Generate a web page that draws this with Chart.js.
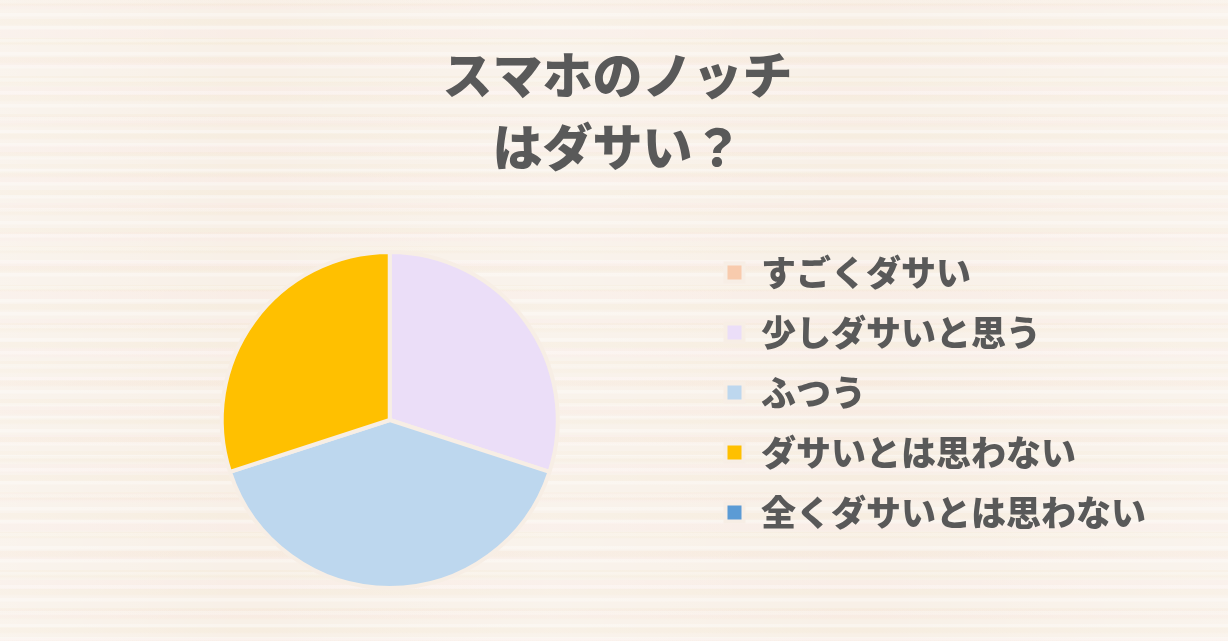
<!DOCTYPE html>
<html lang="ja">
<head>
<meta charset="utf-8">
<title>スマホのノッチはダサい？</title>
<script src="https://cdn.jsdelivr.net/npm/chart.js@4.4.1/dist/chart.umd.min.js"></script>
<style>
  html, body { margin: 0; padding: 0; }
  body {
    width: 1228px;
    height: 641px;
    overflow: hidden;
    background:
      linear-gradient(90deg, rgba(255,255,255,0.25), rgba(255,255,255,0) 20%, rgba(255,255,255,0.2) 45%, rgba(255,255,255,0) 70%, rgba(255,255,255,0.25)),
      repeating-linear-gradient(180deg, rgba(255,255,255,0.30) 0 3px, rgba(255,255,255,0) 4px 13px),
      repeating-linear-gradient(180deg, rgba(240,224,192,0.18) 0 5px, rgba(240,224,192,0) 7px 19px),
      repeating-linear-gradient(180deg, rgba(250,232,228,0.35) 0 8px, rgba(250,232,228,0) 10px 29px),
      repeating-linear-gradient(180deg, rgba(244,230,204,0.20) 0 3px, rgba(244,230,204,0) 5px 41px),
      #f8f0e7;
  }
  #wrap { position: relative; width: 1228px; height: 641px; }
</style>
</head>
<body>
<div id="wrap"><canvas id="notchChart"></canvas></div>
<script>
const titleLines = ["スマホのノッチ", "はダサい？"];
const labels = ["すごくダサい", "少しダサいと思う", "ふつう", "ダサいとは思わない", "全くダサいとは思わない"];
const values = [0, 30, 40, 30, 0];
const colors = ["#f8cbad", "#ebdef8", "#bdd7ee", "#ffc000", "#5b9bd5"];

const textColor = "#595959";
const fontFamily = "'Noto Sans CJK JP', 'Noto Sans', sans-serif";

const ctx = document.getElementById("notchChart").getContext("2d");

new Chart(ctx, {
  type: "pie",
  data: {
    labels,
    datasets: [{
      data: values,
      backgroundColor: colors,
      borderColor: "#f7eee5",
      borderWidth: 4,
      radius: 168
    }]
  },
  options: {
    responsive: true,
    maintainAspectRatio: false,
    animation: false,
    layout: { padding: { left: 79, right: 72, top: 0, bottom: 31 } },
    plugins: {
      title: {
        display: true,
        text: titleLines,
        color: textColor,
        font: { family: fontFamily, size: 50, weight: "900", lineHeight: 1.44 },
        padding: { top: 39, bottom: 47 }
      },
      legend: {
        position: "right",
        align: "start",
        // empty legend title used only to push the items down beside the pie
        title: {
          display: true,
          text: " ",
          font: { size: 10, lineHeight: 1 },
          padding: { top: 220, bottom: 0 }
        },
        labels: {
          color: textColor,
          font: { family: fontFamily, size: 35, weight: "900" },
          boxWidth: 18,
          boxHeight: 18,
          padding: 25
        }
      },
      tooltip: { enabled: false }
    }
  }
});
</script>
</body>
</html>
